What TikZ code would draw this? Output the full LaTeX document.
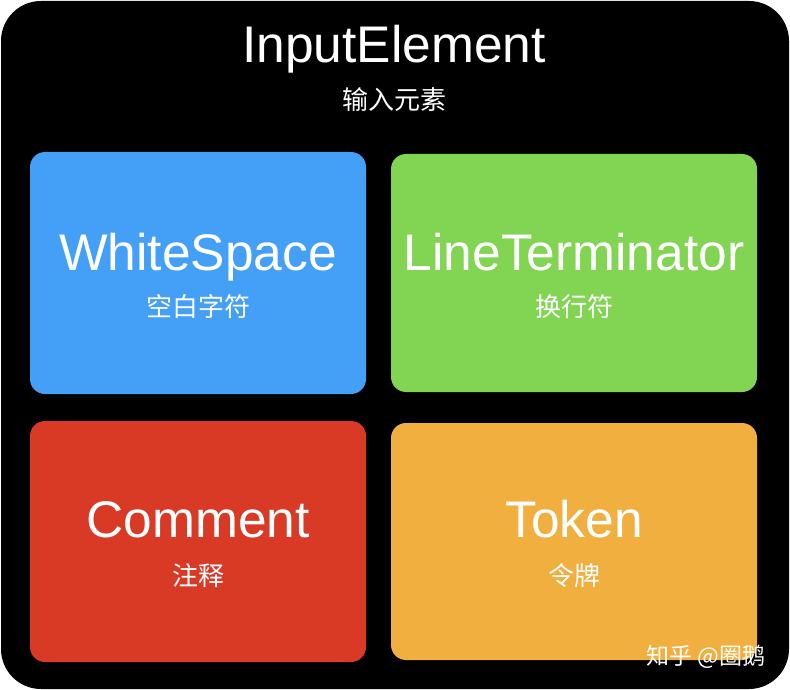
\documentclass[tikz,border=0pt]{standalone}
\usepackage{fontspec}
\setmainfont{Liberation Sans}
\newfontfamily\cjk{Noto Sans CJK SC}
\definecolor{cblue}{HTML}{44A0F6}
\definecolor{cgreen}{HTML}{82D453}
\definecolor{cred}{HTML}{D93A26}
\definecolor{corange}{HTML}{F1AF40}
\begin{document}
\begin{tikzpicture}[x=1pt,y=-1pt,
  tile/.style={rounded corners=15pt},
  big/.style={text=white,anchor=base,inner sep=0pt,font=\fontsize{51.5}{52}\selectfont},
  sub/.style={text=white,anchor=base,inner sep=0pt,font=\cjk\fontsize{26}{26}\selectfont},
  wmark/.style={text=white,anchor=base,inner sep=0pt,font=\cjk\fontsize{23}{23}\selectfont}]
\fill[white] (0,0) rectangle (790,690);
\useasboundingbox (0,0) rectangle (790,690);
\fill[black,rounded corners=40pt] (1,1) rectangle (789,689);
\fill[cblue,tile] (30,152) rectangle (366,394);
\fill[cgreen,tile] (391,154) rectangle (757,392);
\fill[cred,tile] (30,421) rectangle (366,662);
\fill[corange,tile] (391,423) rectangle (757,660);
\node[big] (title) at (394,63) {InputElement};
\node[sub] (titlecn) at (394,110) {输入元素};
\node[big] (ws) at (198,270) {WhiteSpace};
\node[sub] (wscn) at (198,316) {空白字符};
\node[big] (lt) at (574,270) {LineTerminator};
\node[sub] (ltcn) at (574,316) {换行符};
\node[big] (cm) at (198,537) {Comment};
\node[sub] (cmcn) at (198,585) {注释};
\node[big] (tk) at (574,537) {Token};
\node[sub] (tkcn) at (574,585) {令牌};
\node[wmark] (wm) at (706,664) {知乎 @圈鹅};
\end{tikzpicture}
\end{document}
